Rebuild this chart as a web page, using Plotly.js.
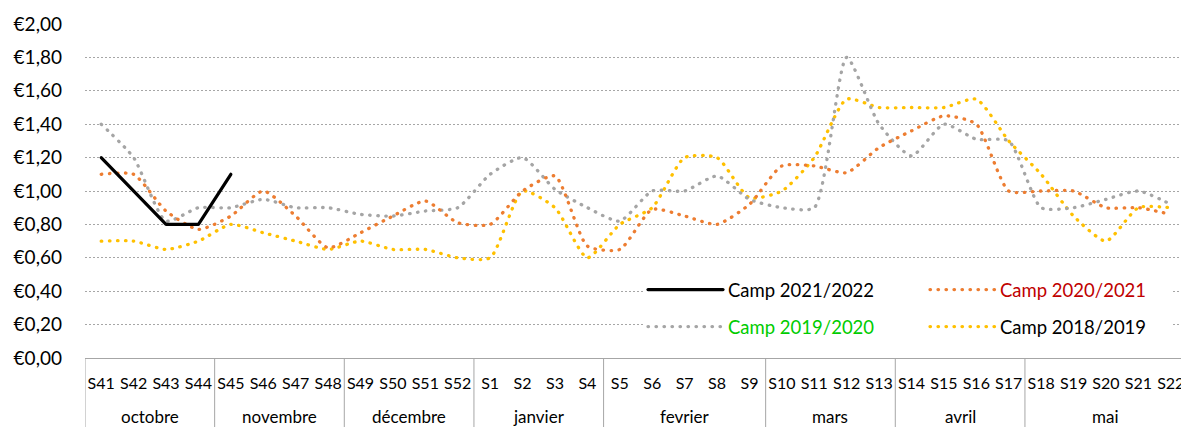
<!DOCTYPE html>
<html>
<head>
<meta charset="utf-8">
<script src="https://cdn.plot.ly/plotly-3.0.1.min.js"></script>
<style>
  html, body { margin: 0; padding: 0; overflow: hidden; background: #fff; }
  #chart { width: 1187px; height: 427px; }
  .scatterlayer .js-line, .legendlines .js-line { stroke-linecap: round !important; stroke-linejoin: round !important; }
</style>
</head>
<body>
<div id="chart"></div>
<script>
// ---- data ----
const weeks = ['S41','S42','S43','S44','S45','S46','S47','S48','S49','S50','S51','S52',
               'S1','S2','S3','S4','S5','S6','S7','S8','S9','S10','S11','S12','S13',
               'S14','S15','S16','S17','S18','S19','S20','S21','S22'];
const monthNames = ['octobre','novembre','décembre','janvier','fevrier','mars','avril','mai'];
const weeksPerMonth = [4,4,4,4,5,4,4,5];

const camp2122 = [1.20, 1.00, 0.80, 0.80, 1.10];
const camp2021 = [1.10,1.10,0.88,0.77,0.85,1.00,0.85,0.66,0.75,0.85,0.94,0.81,
                  0.80,1.00,1.09,0.67,0.65,0.89,0.85,0.80,0.92,1.15,1.15,1.11,1.26,
                  1.36,1.45,1.40,1.00,1.00,1.00,0.90,0.90,0.86];
const camp1920 = [1.40,1.20,0.82,0.90,0.90,0.95,0.90,0.90,0.86,0.85,0.88,0.90,
                  1.10,1.20,1.01,0.90,0.82,1.00,1.00,1.09,0.95,0.90,0.90,1.80,1.40,
                  1.21,1.40,1.31,1.30,0.90,0.90,0.95,1.00,0.92];
const camp1819 = [0.70,0.70,0.65,0.70,0.80,0.75,0.70,0.65,0.70,0.65,0.65,0.60,
                  0.60,1.00,0.90,0.60,0.80,0.90,1.20,1.20,0.96,1.00,1.20,1.55,1.50,
                  1.50,1.50,1.55,1.30,1.10,0.85,0.70,0.90,0.90];

const seriesNames = ['Camp 2021/2022','Camp 2020/2021','Camp 2019/2020','Camp 2018/2019'];

const FONT = 'Lato, "Open Sans", sans-serif';
const dotDash = '0.5px,7.5px';
const SMOOTH = 0.6;
const TABLE = '#A6A6A6';

const traces = [
  { x: weeks.slice(0, camp2122.length), y: camp2122, type: 'scatter', mode: 'lines',
    name: seriesNames[0], legend: 'legend',
    line: { color: '#000000', width: 3.2, shape: 'linear' } },
  { x: weeks.slice(0, camp2021.length), y: camp2021, type: 'scatter', mode: 'lines',
    name: '<span style="color:#C00000">' + seriesNames[1] + '</span>', legend: 'legend2',
    line: { color: '#ED7D31', width: 3.3, dash: dotDash, shape: 'spline', smoothing: SMOOTH } },
  { x: weeks.slice(0, camp1920.length), y: camp1920, type: 'scatter', mode: 'lines',
    name: '<span style="color:#00CC00">' + seriesNames[2] + '</span>', legend: 'legend3',
    line: { color: '#A5A5A5', width: 3.3, dash: dotDash, shape: 'spline', smoothing: SMOOTH } },
  { x: weeks.slice(0, camp1819.length), y: camp1819, type: 'scatter', mode: 'lines',
    name: seriesNames[3], legend: 'legend4',
    line: { color: '#FFC000', width: 3.3, dash: dotDash, shape: 'spline', smoothing: SMOOTH } }
];
// draw order: older series below
const ordered = [traces[3], traces[2], traces[1], traces[0]];

// month group table below the axis (built from weeksPerMonth)
const shapes = [];
const annotations = [];
let start = 0;
shapes.push({ type: 'line', xref: 'x', yref: 'paper', x0: -0.5, x1: -0.5, y0: 0, y1: -0.25,
              line: { color: TABLE, width: 1 } });
weeksPerMonth.forEach((n, i) => {
  const end = start + n;
  shapes.push({ type: 'line', xref: 'x', yref: 'paper', x0: end - 0.5, x1: end - 0.5, y0: 0, y1: -0.25,
                line: { color: TABLE, width: 1 } });
  annotations.push({ xref: 'x', yref: 'paper', x: (start + end - 1) / 2, y: (358 - 416) / 334,
                     text: monthNames[i], showarrow: false, xanchor: 'center', yanchor: 'middle',
                     font: { family: FONT, size: 17, color: '#000000' } });
  start = end;
});

function legendAt(xPx, yPx, itemwidth, entrywidth) {
  return { x: (xPx - 85) / 1102, y: (358 - yPx) / 334, xanchor: 'left', yanchor: 'middle',
           orientation: 'h', bgcolor: '#ffffff', borderwidth: 0,
           itemwidth: itemwidth, entrywidth: entrywidth, entrywidthmode: 'pixels',
           font: { family: FONT, size: 18.5, color: '#000000' } };
}

const layout = {
  width: 1187, height: 427,
  margin: { l: 85, r: 0, t: 24, b: 69 },
  paper_bgcolor: '#ffffff', plot_bgcolor: '#ffffff',
  separators: ',.',
  showlegend: true,
  font: { family: FONT, color: '#000000' },
  xaxis: {
    type: 'category', range: [-0.5, weeks.length - 0.5],
    showgrid: false, zeroline: false,
    showline: true, linecolor: TABLE, linewidth: 1,
    ticks: '', tickangle: 0, ticklabelstandoff: 11,
    tickfont: { family: FONT, size: 16, color: '#000000' }
  },
  yaxis: {
    range: [0, 2], dtick: 0.2, tick0: 0,
    tickprefix: '€', tickformat: '.2f',
    showgrid: true, gridcolor: TABLE, gridwidth: 1, griddash: '2px,2px',
    zeroline: false, showline: false, ticks: '',
    ticklabelstandoff: 22,
    tickfont: { family: FONT, size: 19, color: '#000000' }
  },
  shapes: shapes,
  annotations: annotations,
  legend:  legendAt(643, 290, 75, 192),
  legend2: legendAt(925, 290, 65, 167),
  legend3: legendAt(643, 327, 75, 192),
  legend4: legendAt(925, 327, 65, 167)
};

Plotly.newPlot('chart', ordered, layout, { staticPlot: true, displayModeBar: false });
</script>
</body>
</html>
